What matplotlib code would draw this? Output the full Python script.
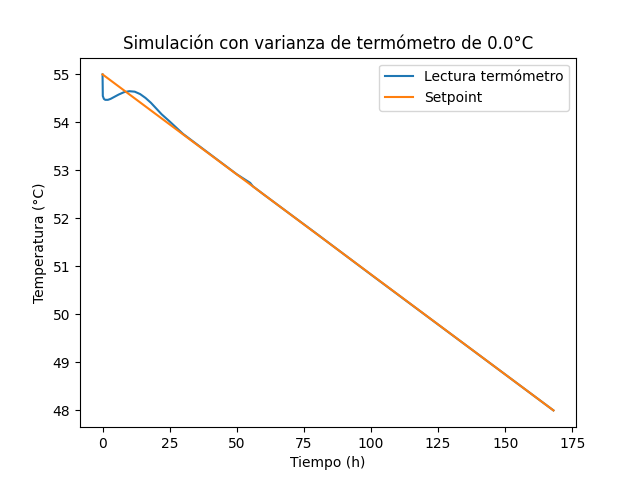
import matplotlib
matplotlib.use("Agg")
import matplotlib.pyplot as plt

# Thermometer reading
tiempo = [0, 0.1, 0.5, 1, 2, 3, 4, 5, 6, 8, 10, 12, 14, 16, 18, 20, 22, 25, 30, 40, 50, 55, 56, 60, 80, 100, 125, 150, 168]
lectura = [55.0, 54.55, 54.49, 54.47, 54.47, 54.49, 54.52, 54.55, 54.58, 54.63, 54.65, 54.64, 54.59, 54.51, 54.41, 54.29, 54.17, 54.02, 53.76, 53.34, 52.92, 52.74, 52.67, 52.50, 51.67, 50.83, 49.79, 48.75, 48.0]

# Setpoint ramp
tiempo_sp = [0, 168]
setpoint = [55.0, 48.0]

plt.figure(figsize=(6.4, 4.8))
plt.plot(tiempo, lectura, label="Lectura termómetro")
plt.plot(tiempo_sp, setpoint, label="Setpoint")
plt.title("Simulación con varianza de termómetro de 0.0°C")
plt.xlabel("Tiempo (h)")
plt.ylabel("Temperatura (°C)")
plt.legend()
plt.savefig("out.png")
